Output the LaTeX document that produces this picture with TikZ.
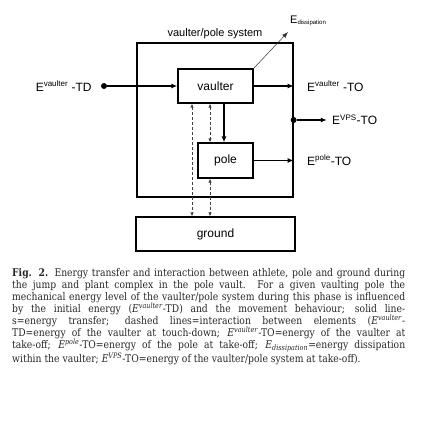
\documentclass[tikz,border=0pt]{standalone}
\usepackage{fontspec}
\setmainfont{Liberation Serif}
\newfontfamily\capfont[FakeStretch=0.87]{DejaVu Serif}
\newfontfamily\diagfont{Liberation Sans}
\usetikzlibrary{arrows.meta,positioning,calc}

\begin{document}
\begin{tikzpicture}[x=1pt,y=-1pt,
    font=\diagfont\fontsize{12}{14}\selectfont,
    box/.style={draw,line width=1.3pt,inner sep=0pt},
    flow/.style={-{Latex[length=6pt,width=5pt]},line width=1.2pt},
    link/.style={{Latex[length=4pt,width=3.5pt]}-{Latex[length=4pt,width=3.5pt]},densely dashed,line width=0.9pt,draw=black!75},
    loss/.style={-{Latex[length=6pt,width=4.5pt]},line width=0.5pt,draw=black!80},
    junction/.style={circle,fill,inner sep=0pt,minimum size=6pt},
    lbl/.style={inner sep=0pt,anchor=west}
  ]
  \useasboundingbox (0,0) rectangle (425,425);

  \node[box,minimum width=156pt,minimum height=154pt] (sys) at (215,120) {};
  \node[box,minimum width=75pt,minimum height=34pt] (vaulter) at (215.5,86) {vaulter};
  \node[box,minimum width=55pt,minimum height=35pt] (pole) at (225.5,160.5) {pole};
  \node[box,minimum width=159pt,minimum height=34pt] (ground) at (215.5,234) {ground};
  \node[above=3pt of sys,inner sep=0pt,font=\diagfont\fontsize{11}{13}\selectfont] (systitle) {vaulter/pole system};

  % energy in and out
  \node[junction] (tdin) at (104,86) {};
  \node[left=9pt of tdin,inner sep=0pt] (tdlbl) {E\textsuperscript{vaulter} -TD};
  \draw[flow] (tdin) -- (vaulter.west);

  \coordinate (vto) at (vaulter.east -| sys.east);
  \draw[flow] (vaulter.east) -- (vto);
  \node[lbl] (vtolbl) at (307,86) {E\textsuperscript{vaulter} -TO};

  \node[junction] (vps) at (sys.east) {};
  \coordinate[right=30pt of vps] (vpsend);
  \draw[flow] (vps) -- (vpsend);
  \node[lbl] (vpslbl) at (332,120) {E\textsuperscript{VPS}-TO};

  \coordinate (pto) at (pole.east -| sys.east);
  \draw[flow] (pole.east) -- (pto);
  \node[lbl] (ptolbl) at (307,160) {E\textsuperscript{pole}-TO};

  \coordinate (diss) at (288,32);
  \draw[loss] (vaulter.north east) -- (diss);
  \node[lbl,font=\diagfont\fontsize{11}{13}\selectfont] (disslbl) at (290,21) {E\textsubscript{\fontsize{6}{7}\selectfont dissipation}};

  % transfer and interaction
  \coordinate (s1) at ([xshift=8.5pt]vaulter.south);
  \draw[flow] (s1) -- (s1 |- pole.north);
  \coordinate (d1) at ([xshift=-23.5pt]vaulter.south);
  \draw[link] (d1) -- (d1 |- ground.north);
  \coordinate (d2) at ([xshift=-5.5pt]vaulter.south);
  \draw[link] (d2) -- (d2 |- pole.north);
  \coordinate (d3) at ([xshift=-15.5pt]pole.south);
  \draw[link] (d3) -- (d3 |- ground.north);

  \node[anchor=north west,inner sep=0pt,text width=393pt,align=justify,
        font=\capfont\fontsize{10.6}{12}\selectfont,text=black!85] (caption) at (12,268)
  {\textbf{Fig. 2.} Energy transfer and interaction between athlete, pole and ground during\linebreak
   the jump and plant complex in the pole vault. For a given vaulting pole the\linebreak
   mechanical energy level of the vaulter/pole system during this phase is influenced\linebreak
   by the initial energy (\textit{E}\textsuperscript{\textit{vaulter}}-TD) and the movement behaviour; solid line-\linebreak
   s=energy transfer; dashed lines=interaction between elements (\textit{E}\textsuperscript{\textit{vaulter}}-\linebreak
   TD=energy of the vaulter at touch-down; \textit{E}\textsuperscript{\textit{vaulter}}-TO=energy of the vaulter at\linebreak
   take-off; \textit{E}\textsuperscript{\textit{pole}}-TO=energy of the pole at take-off; \textit{E}\textsubscript{\textit{dissipation}}=energy dissipation\linebreak
   within the vaulter; \textit{E}\textsuperscript{\textit{VPS}}-TO=energy of the vaulter/pole system at take-off).};
\end{tikzpicture}
\end{document}
